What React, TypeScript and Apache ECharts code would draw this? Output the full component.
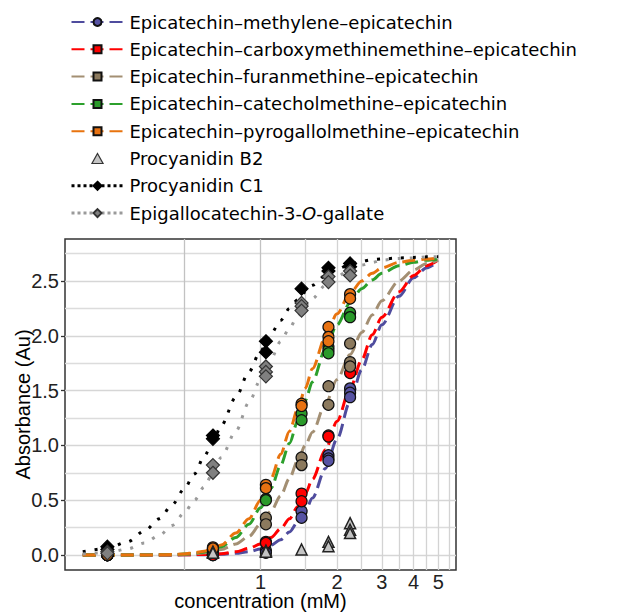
import React, { useEffect, useRef } from "react";
import * as echarts from "echarts";

// Concentrations (mM) at which absorbance was measured
const CONC = [0.25, 0.65, 1.05, 1.45, 1.85, 2.25];

// Replicate absorbance readings, one list per concentration
const PTS_METHYLENE = [[0, 0], [0, 0], [0.04, 0.02], [0.4, 0.34], [0.91, 0.88, 0.86], [1.52, 1.48, 1.44]];
const PTS_CARBOXY = [[0, 0], [0.01, 0], [0.12, 0.11], [0.56, 0.49], [1.09, 1.08], [1.73, 1.66]];
const PTS_FURAN = [[0, 0], [0.04, 0.02], [0.34, 0.28], [0.89, 0.82], [1.54, 1.37], [1.93, 1.76, 1.72]];
const PTS_CATECHOL = [[0, 0], [0.06, 0.05], [0.51, 0.5], [1.29, 1.23], [1.9, 1.87, 1.84], [2.21, 2.17]];
const PTS_PYROGALLOL = [[0, 0], [0.07, 0.06], [0.64, 0.61], [1.38, 1.36], [2.08, 1.99, 1.95], [2.38, 2.34]];
const PTS_B2 = [[], [0.03, 0.02], [0.04, 0.03], [0.05], [0.12, 0.08], [0.29, 0.23, 0.2]];
const PTS_C1 = [[0.076, 0.05], [1.09, 1.06], [1.95, 1.85], [2.43], [2.62, 2.59], [2.66, 2.63]];
const PTS_EGCG = [[0.03, 0.015], [0.82, 0.75], [1.72, 1.67, 1.63], [2.3, 2.27, 2.23], [2.54, 2.49], [2.59, 2.55]];

// Fitted dose-response curves, sampled at FIT_X
const FIT_X = [0.2, 0.25, 0.3, 0.35, 0.4, 0.45, 0.5, 0.55, 0.6, 0.65, 0.7, 0.8, 0.9, 1.0, 1.1, 1.2, 1.3, 1.4, 1.5, 1.6, 1.8, 2.0, 2.25, 2.5, 2.75, 3.0, 3.5, 4.0, 4.5, 5.0];
const FIT_METHYLENE = [0, 0, 0, 0, 0, 0, 0.001, 0.002, 0.003, 0.004, 0.006, 0.015, 0.03, 0.055, 0.09, 0.14, 0.21, 0.3, 0.4, 0.52, 0.79, 1.06, 1.4, 1.69, 1.92, 2.1, 2.36, 2.53, 2.62, 2.68];
const FIT_CARBOXY = [0, 0, 0, 0, 0, 0.001, 0.002, 0.003, 0.005, 0.008, 0.012, 0.03, 0.06, 0.1, 0.16, 0.24, 0.33, 0.44, 0.56, 0.69, 0.96, 1.22, 1.52, 1.78, 2.01, 2.17, 2.4, 2.55, 2.64, 2.69];
const FIT_FURAN = [0, 0, 0, 0.001, 0.002, 0.004, 0.006, 0.012, 0.02, 0.03, 0.05, 0.1, 0.17, 0.28, 0.4, 0.54, 0.7, 0.86, 1.0, 1.12, 1.38, 1.6, 1.83, 2.03, 2.19, 2.32, 2.5, 2.6, 2.66, 2.69];
const FIT_CATECHOL = [0, 0, 0, 0, 0.002, 0.003, 0.008, 0.015, 0.028, 0.05, 0.075, 0.16, 0.28, 0.43, 0.61, 0.82, 1.02, 1.22, 1.41, 1.58, 1.88, 2.1, 2.3, 2.43, 2.51, 2.57, 2.64, 2.67, 2.69, 2.7];
const FIT_PYROGALLOL = [0, 0, 0, 0, 0.002, 0.004, 0.01, 0.02, 0.035, 0.06, 0.09, 0.2, 0.33, 0.5, 0.7, 0.92, 1.13, 1.33, 1.52, 1.7, 1.99, 2.2, 2.39, 2.5, 2.57, 2.62, 2.67, 2.69, 2.7, 2.71];
const FIT_C1 = [0.03, 0.06, 0.12, 0.22, 0.33, 0.46, 0.6, 0.74, 0.9, 1.03, 1.18, 1.44, 1.67, 1.86, 2.02, 2.14, 2.25, 2.33, 2.4, 2.46, 2.55, 2.61, 2.65, 2.68, 2.695, 2.7, 2.71, 2.715, 2.72, 2.72];
const FIT_EGCG = [0.01, 0.02, 0.055, 0.11, 0.18, 0.27, 0.38, 0.5, 0.62, 0.75, 0.89, 1.13, 1.39, 1.6, 1.79, 1.95, 2.07, 2.18, 2.27, 2.34, 2.46, 2.54, 2.61, 2.645, 2.67, 2.69, 2.705, 2.71, 2.72, 2.72];

// Axis ticks and grid positions
const X_TICKS = [1, 2, 3, 4, 5];
const X_GRID = [0.5, 1, 1.5, 2, 2.5, 3, 3.5, 4, 4.5, 5, 5.5];
const Y_TICKS = [0, 0.5, 1, 1.5, 2, 2.5];
const Y_MINOR = [0.25, 0.75, 1.25, 1.75, 2.25, 2.75];

const NAME_METHYLENE = "Epicatechin–methylene–epicatechin";
const NAME_CARBOXY = "Epicatechin–carboxymethinemethine–epicatechin";
const NAME_FURAN = "Epicatechin–furanmethine–epicatechin";
const NAME_CATECHOL = "Epicatechin–catecholmethine–epicatechin";
const NAME_PYROGALLOL = "Epicatechin–pyrogallolmethine–epicatechin";
const NAME_B2 = "Procyanidin B2";
const NAME_C1 = "Procyanidin C1";
const NAME_EGCG = "Epigallocatechin-3-O-gallate";

const AXIS_FONT = "'Liberation Sans', Arial, Helvetica, sans-serif";
const LEGEND_FONT = "'DejaVu Sans', Verdana, sans-serif";

// upward triangle as a path, so the legend keeps it square instead of stretching it
const TRIANGLE_ICON = "path://M5,0L10,9L0,9Z";

function points(reps: number[][]) {
  const out: number[][] = [];
  reps.forEach((vals, i) => vals.forEach((v) => out.push([CONC[i], v])));
  return out;
}

function curve(vals: number[]) {
  return FIT_X.map((x, i) => [x, vals[i]]);
}

type Def = {
  name: string;
  line: string;
  fill: string;
  border: string;
  symbol: string;
  size: number;
  dash: number[];
  width: number;
  fit: number[];
  pts: number[][];
  z: number;
};

const DEFS: Def[] = [
  { name: NAME_METHYLENE, line: "#4f4c9e", fill: "#5753a3", border: "#111", symbol: "circle", size: 11, dash: [13, 6], width: 3, fit: FIT_METHYLENE, pts: PTS_METHYLENE, z: 3 },
  { name: NAME_CARBOXY, line: "#ff0000", fill: "#ff0000", border: "#111", symbol: "rect", size: 11, dash: [13, 6], width: 3, fit: FIT_CARBOXY, pts: PTS_CARBOXY, z: 3 },
  { name: NAME_FURAN, line: "#a38f73", fill: "#8c7a5e", border: "#111", symbol: "rect", size: 11, dash: [13, 6], width: 3, fit: FIT_FURAN, pts: PTS_FURAN, z: 3 },
  { name: NAME_CATECHOL, line: "#2ca02c", fill: "#2a9a2a", border: "#111", symbol: "rect", size: 11, dash: [13, 6], width: 3, fit: FIT_CATECHOL, pts: PTS_CATECHOL, z: 3 },
  { name: NAME_PYROGALLOL, line: "#e8730e", fill: "#e87212", border: "#111", symbol: "rect", size: 11, dash: [13, 6], width: 3, fit: FIT_PYROGALLOL, pts: PTS_PYROGALLOL, z: 3 },
  { name: NAME_C1, line: "#000000", fill: "#000000", border: "#000", symbol: "diamond", size: 13, dash: [3, 9], width: 3, fit: FIT_C1, pts: PTS_C1, z: 4 },
  { name: NAME_EGCG, line: "#9a9a9a", fill: "#808080", border: "#333", symbol: "diamond", size: 13, dash: [3, 9], width: 3, fit: FIT_EGCG, pts: PTS_EGCG, z: 4 },
];

function buildOption() {
  const series: any[] = [];

  // grid lines, drawn through the axes' own scales
  series.push({
    type: "line",
    data: [],
    silent: true,
    markLine: {
      silent: true,
      z: 1,
      symbol: ["none", "none"],
      label: { show: false },
      emphasis: { disabled: true },
      data: [
        ...Y_MINOR.map((v) => ({ yAxis: v, lineStyle: { color: "#dcdcdc", width: 1.3, type: "solid" } })),
        ...Y_TICKS.map((v) => ({ yAxis: v, lineStyle: { color: "#d6d6d6", width: 1.4, type: "solid" } })),
        ...X_GRID.map((v) => ({ xAxis: v, lineStyle: { color: v === 0.5 || v === 1 ? "#c2c2c2" : "#d3d3d3", width: 1.3, type: "solid" } })),
      ],
    },
  });

  // fitted curves first, so the legend picks up their line + symbol
  DEFS.forEach((d) => {
    series.push({
      type: "line",
      name: d.name,
      data: curve(d.fit),
      smooth: 0.3,
      smoothMonotone: "x",
      showSymbol: false,
      symbol: d.symbol,
      symbolSize: 8,
      silent: true,
      z: 2,
      itemStyle: { color: d.fill, borderColor: d.border, borderWidth: 1 },
      lineStyle: { color: d.line, width: d.width, type: d.dash, cap: "butt" },
      emphasis: { disabled: true },
    });
  });

  DEFS.forEach((d) => {
    series.push({
      type: "scatter",
      name: d.name,
      data: points(d.pts),
      symbol: d.symbol === "rect" ? "circle" : d.symbol,
      symbolSize: d.size,
      silent: true,
      z: d.z,
      itemStyle: { color: d.fill, borderColor: d.border, borderWidth: 1.2, opacity: 1 },
      emphasis: { disabled: true },
    });
  });

  series.push({
    type: "scatter",
    name: NAME_B2,
    data: points(PTS_B2),
    symbol: "triangle",
    symbolSize: 11,
    silent: true,
    z: 5,
    itemStyle: { color: "#c4c4c4", borderColor: "#222", borderWidth: 1.5, opacity: 1 },
    emphasis: { disabled: true },
  });

  const dotted = { type: [3, 3], width: 3 };

  return {
    animation: false,
    backgroundColor: "#ffffff",
    grid: {
      left: 65,
      right: 162,
      top: 239,
      bottom: 42,
      show: true,
      backgroundColor: "#ffffff",
      borderColor: "#333333",
      borderWidth: 1.5,
      containLabel: false,
      outerBoundsMode: "none",
    },
    legend: {
      orient: "vertical",
      left: 65,
      top: 8,
      itemWidth: 52,
      itemHeight: 10,
      itemGap: 9.3,
      selectedMode: false,
      symbolKeepAspect: true,
      textStyle: {
        fontFamily: LEGEND_FONT,
        fontSize: 18,
        lineHeight: 18,
        color: "#000",
        padding: [0, 0, 0, 1],
        rich: {
          i: { fontFamily: LEGEND_FONT, fontSize: 18, lineHeight: 18, fontStyle: "italic", color: "#000" },
        },
      },
      formatter: (n: string) => (n === NAME_EGCG ? "Epigallocatechin-3-{i|O}-gallate" : n),
      data: [
        { name: NAME_METHYLENE },
        { name: NAME_CARBOXY },
        { name: NAME_FURAN },
        { name: NAME_CATECHOL },
        { name: NAME_PYROGALLOL },
        { name: NAME_B2, icon: TRIANGLE_ICON, symbolKeepAspect: true, itemStyle: { color: "#c4c4c4", borderColor: "#333", borderWidth: 1.2 } },
        { name: NAME_C1, lineStyle: dotted },
        { name: NAME_EGCG, lineStyle: dotted },
      ],
    },
    xAxis: {
      type: "log",
      logBase: 10,
      min: 0.1703,
      max: 5.87,
      name: "concentration (mM)",
      nameLocation: "middle",
      nameGap: 22,
      nameMoveOverlap: false,
      nameTextStyle: { fontFamily: AXIS_FONT, fontSize: 20, lineHeight: 18, color: "#000" },
      axisLine: { show: false },
      axisTick: { show: false },
      splitLine: { show: false },
      minorSplitLine: { show: false },
      axisLabel: {
        customValues: X_TICKS,
        formatter: (v: number) => String(Math.round(v)),
        fontFamily: AXIS_FONT,
        fontSize: 20,
        lineHeight: 16,
        color: "#222",
        margin: 4,
      },
    },
    yAxis: {
      type: "value",
      min: -0.137,
      max: 2.883,
      name: "Absorbance (Au)",
      nameLocation: "middle",
      nameGap: 32,
      nameMoveOverlap: false,
      nameTextStyle: { fontFamily: AXIS_FONT, fontSize: 20, color: "#000" },
      axisLine: { show: false },
      axisTick: { show: true, customValues: Y_TICKS, length: 4, lineStyle: { color: "#333", width: 1.3 } },
      splitLine: { show: false },
      axisLabel: {
        customValues: Y_TICKS,
        formatter: (v: number) => v.toFixed(1),
        fontFamily: AXIS_FONT,
        fontSize: 20,
        color: "#222",
        margin: 6,
      },
    },
    series,
  };
}

export default function App() {
  const ref = useRef<HTMLDivElement>(null);
  useEffect(() => {
    document.body.style.margin = "0";
    document.body.style.overflow = "hidden";
    if (!ref.current) return;
    const chart = echarts.init(ref.current, undefined, { renderer: "svg" });
    chart.setOption(buildOption() as any);
    return () => chart.dispose();
  }, []);
  return <div ref={ref} style={{ position: "absolute", left: 0, top: 0, width: 618, height: 612 }} />;
}
